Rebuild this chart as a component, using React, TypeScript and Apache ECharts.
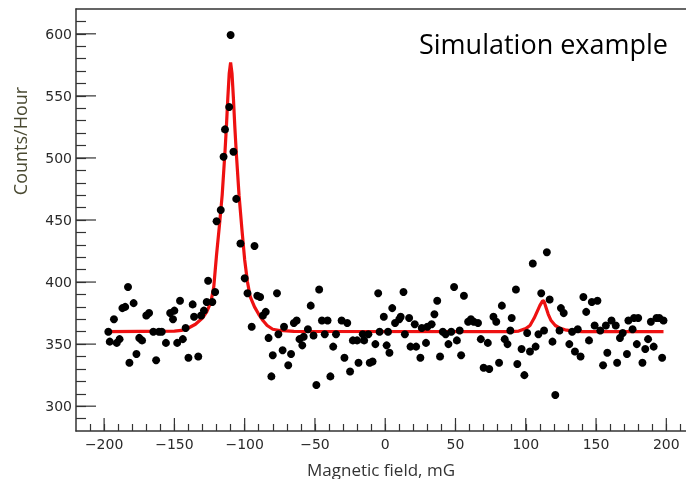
import React, { useEffect, useRef } from 'react';
import * as echarts from 'echarts';

// Measured points: magnetic field (mG) and counts/hour
const pointX = [
  -197, -196, -193, -191, -189, -187, -185, -183, -182, -179, -177, -175, -173, -170, -168, -165, -163, -161, -159,
  -156, -153, -151, -150, -148, -146, -144, -142, -140, -137, -136, -133, -131, -129, -127, -126, -123, -121, -120,
  -117, -115, -114, -111, -110, -108, -106, -103, -100, -98, -95, -93, -91, -89, -87, -85, -83, -81, -80, -77, -76,
  -73, -72, -69, -67, -65, -63, -61, -59, -58, -55, -53, -51, -49, -47, -45, -43, -41, -39, -37, -35, -31, -29, -27,
  -25, -23, -20, -19, -16, -15, -12, -11, -9, -7, -5, -4, -1, 1, 2, 3, 5, 7, 10, 11, 13, 14, 17, 18, 21, 22, 25, 26,
  29, 30, 33, 35, 37, 39, 41, 43, 45, 47, 49, 51, 53, 54, 56, 59, 61, 63, 66, 68, 70, 73, 74, 77, 79, 81, 83, 85, 87,
  89, 90, 93, 94, 97, 99, 101, 103, 105, 107, 109, 111, 113, 115, 117, 119, 121, 124, 125, 127, 131, 133, 135, 137,
  139, 141, 143, 145, 147, 149, 151, 153, 155, 157, 158, 161, 164, 165, 167, 169, 172, 173, 176, 177, 179, 180, 183,
  185, 187, 189, 191, 193, 195, 197, 198,
];
const pointY = [
  360, 352, 370, 351, 354, 379, 380, 396, 335, 383, 342, 355, 353, 373, 375, 360, 337, 360, 360,
  351, 375, 370, 377, 351, 385, 354, 363, 339, 382, 372, 340, 373, 377, 384, 401, 384, 392, 449,
  458, 501, 523, 541, 599, 505, 467, 431, 403, 391, 364, 429, 389, 388, 373, 376, 355, 324, 341, 391, 358,
  345, 364, 333, 342, 367, 369, 354, 349, 356, 362, 381, 357, 317, 394, 369, 358, 369, 324, 348, 358, 369, 339, 367,
  328, 353, 353, 335, 358, 353, 358, 335, 336, 350, 391, 360, 372, 349, 360, 343, 379, 367, 370, 372, 392, 358, 371, 348, 366, 348, 339, 363,
  351, 364, 366, 374, 385, 340, 360, 358, 350, 360, 396, 353, 361, 341, 389, 368, 370, 368, 367, 354, 331, 351, 330, 372, 368, 335, 381, 354, 350,
  361, 371, 394, 334, 346, 325, 359, 344, 415, 348, 358, 391, 361, 424, 386, 352, 309, 361, 379, 375, 350, 360, 344, 362,
  340, 388, 376, 353, 384, 365, 385, 361, 333, 365, 343, 369, 365, 335, 355, 359, 342, 369, 362, 371, 350, 371, 335,
  346, 354, 368, 348, 371, 371, 339, 369,
];

// Fitted curve
const fitX = [
  -198, -150, -145, -140, -135, -130, -127, -124, -122, -120, -118, -116, -114, -113, -112, -111, -110, -109, -108,
  -107, -106, -104, -102, -100, -98, -96, -93, -90, -87, -84, -80, -75, -65, 90, 95, 100, 103, 106, 108, 110, 112,
  113, 114, 116, 118, 121, 124, 128, 134, 140, 198,
];
const fitY = [
  360, 360.5, 361, 363, 366, 371, 376, 384, 396, 422, 445, 470, 505, 525, 548, 568, 577, 568, 548,
  525, 505, 470, 443, 418, 400, 388, 380, 374, 369, 365, 362, 361, 360.3, 360, 360.5, 362.5, 365, 371, 376, 381, 385,
  384.5, 381, 374, 369, 365, 363, 361.5, 360.5, 360, 360,
];

const xMajorTicks = [-200, -150, -100, -50, 0, 50, 100, 150, 200];
const yMajorTicks = [300, 350, 400, 450, 500, 550, 600];

const X_MIN = -220;
const X_MAX = 214;
const Y_MIN = 280;
const Y_MAX = 620;

export default function App() {
  const ref = useRef<HTMLDivElement>(null);

  useEffect(() => {
    const chart = echarts.init(ref.current as HTMLDivElement, null, { renderer: 'svg' });
    const axisColor = '#333333';
    const fmt = (v: number) => (v % 50 === 0 ? String(v).replace('-', '\u2212') : '');
    const labelStyle = { color: '#2a2a2a', fontSize: 14, fontFamily: 'DejaVu Sans, sans-serif' };

    chart.setOption({
      animation: false,
      grid: { left: 76, right: 0, top: 9, bottom: 48, containLabel: false },
      xAxis: [
        {
          type: 'value', min: X_MIN, max: X_MAX, interval: 10, position: 'bottom',
          axisLine: { show: true, onZero: false, lineStyle: { color: axisColor, width: 1.5 } },
          axisTick: { show: true, inside: true, length: 7, lineStyle: { color: axisColor, width: 1.2 } },
          axisLabel: { ...labelStyle, formatter: fmt, margin: 6, showMinLabel: false, showMaxLabel: false },
          splitLine: { show: false },
        },
        {
          type: 'value', min: X_MIN, max: X_MAX, position: 'top',
          axisLine: { show: true, onZero: false, lineStyle: { color: axisColor, width: 1.5 } },
          axisTick: { show: false }, axisLabel: { show: false }, splitLine: { show: false },
        },
      ],
      yAxis: {
        type: 'value', min: Y_MIN, max: Y_MAX, interval: 10,
        axisLine: { show: true, onZero: false, lineStyle: { color: axisColor, width: 1.5 } },
        axisTick: { show: true, inside: true, length: 10, lineStyle: { color: axisColor, width: 1.2 } },
        axisLabel: { ...labelStyle, formatter: fmt, margin: 4, showMinLabel: false, showMaxLabel: false },
        splitLine: { show: false },
      },
      series: [
        {
          type: 'custom', xAxisIndex: 0, yAxisIndex: 0, silent: true, z: 5,
          data: xMajorTicks.map((v) => [v, Y_MIN]),
          renderItem: (_p: any, api: any) => {
            const c = api.coord([api.value(0), api.value(1)]);
            return { type: 'line', shape: { x1: c[0], y1: c[1], x2: c[0], y2: c[1] - 13 }, style: { stroke: axisColor, lineWidth: 1.2 } };
          },
        },
        {
          type: 'custom', xAxisIndex: 0, yAxisIndex: 0, silent: true, z: 5,
          data: yMajorTicks.map((v) => [X_MIN, v]),
          renderItem: (_p: any, api: any) => {
            const c = api.coord([api.value(0), api.value(1)]);
            return { type: 'line', shape: { x1: c[0], y1: c[1], x2: c[0] + 20, y2: c[1] }, style: { stroke: axisColor, lineWidth: 1.2 } };
          },
        },
        {
          type: 'line', xAxisIndex: 0, yAxisIndex: 0, showSymbol: false, smooth: false, z: 2,
          data: fitX.map((x, i) => [x, fitY[i]]),
          lineStyle: { color: '#ee1111', width: 3.2 },
        },
        {
          type: 'scatter', xAxisIndex: 0, yAxisIndex: 0, z: 3,
          symbol: 'circle', symbolSize: 8,
          data: pointX.map((x, i) => [x, pointY[i]]),
          itemStyle: { color: '#000000', opacity: 1 },
        },
      ],
      graphic: [
        {
          type: 'text', x: 668, y: 43,
          style: { text: 'Simulation example', textAlign: 'right', textVerticalAlign: 'middle', fontSize: 27, fontFamily: 'Open Sans, sans-serif', fill: '#000000' },
        },
        {
          type: 'text', x: 20, y: 141, rotation: Math.PI / 2,
          style: { text: 'Counts/Hour', textAlign: 'center', textVerticalAlign: 'middle', fontSize: 18, fontFamily: 'Open Sans, sans-serif', fill: '#4a4a32' },
        },
        {
          type: 'text', x: 381, y: 469,
          style: { text: 'Magnetic field, mG', textAlign: 'center', textVerticalAlign: 'middle', fontSize: 17, fontFamily: 'Open Sans, sans-serif', fill: '#333333' },
        },
      ],
    });

    return () => chart.dispose();
  }, []);

  return <div ref={ref} style={{ position: 'fixed', left: 0, top: 0, width: 686, height: 479 }} />;
}
